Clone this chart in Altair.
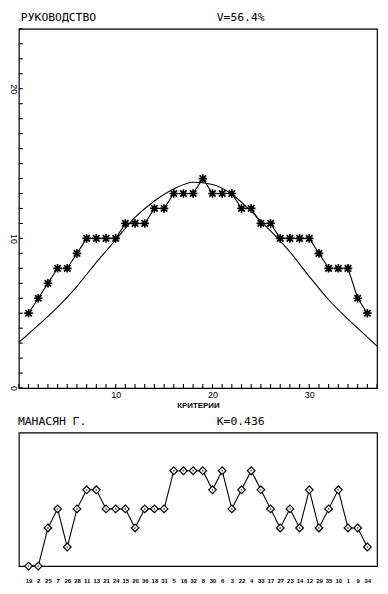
import altair as alt
import pandas as pd

# ---- data ----
criteria = list(range(1, 37))
top_values = [5, 6, 7, 8, 8, 9, 10, 10, 10, 10, 11, 11, 11, 12, 12, 13, 13, 13,
              14, 13, 13, 13, 12, 12, 11, 11, 10, 10, 10, 10, 9, 8, 8, 8, 6, 5]
curve_x = [0, 2, 4, 6, 8, 10, 12, 14, 16, 18, 20, 22, 24, 26, 28, 30, 32, 34, 36, 37]
curve_y = [3.05, 4.2, 5.4, 6.8, 8.4, 9.9, 11.4, 12.5, 13.3, 13.75, 13.6, 12.95,
           11.8, 10.5, 9.1, 7.45, 5.9, 4.6, 3.4, 2.8]
order_labels = ['19', '2', '25', '7', '26', '28', '11', '13', '21', '24', '15', '20',
                '36', '18', '31', '5', '16', '32', '8', '30', '6', '3', '22', '4',
                '33', '17', '27', '23', '14', '12', '29', '35', '10', '1', '9', '34']
bottom_values = [0, 0, 2, 3, 1, 3, 4, 4, 3, 3, 3, 2, 3, 3, 3, 5, 5, 5, 5, 4, 5, 3,
                 4, 5, 4, 3, 2, 3, 2, 4, 2, 3, 4, 2, 2, 1]
top_header = ["РУКОВОДСТВО", "V=56.4%"]
bottom_header = ["МАНАСЯН Г.", "K=0.436"]
x_ticks = list(range(0, 38))
y_ticks = list(range(0, 25))

HFONT = "DejaVu Sans Mono"
W = 362
H = 363

top_df = pd.DataFrame({"x": criteria, "y": top_values})
curve_df = pd.DataFrame({"x": curve_x, "y": curve_y})
bot_df = pd.DataFrame({"x": criteria, "y": bottom_values})
xt_df = pd.DataFrame({"v": x_ticks})
yt_df = pd.DataFrame({"v": y_ticks})

xs = alt.Scale(domain=[0, 37], nice=False, zero=False)
ys = alt.Scale(domain=[0, 24], nice=False)


def x_axis():
    return alt.Axis(values=[10, 20, 30], ticks=False, domain=False, labelPadding=3,
                    labelFontSize=9, labelColor="black",
                    title="КРИТЕРИИ", titleFontSize=8, titleFontWeight="bold",
                    titlePadding=2, titleColor="black", grid=False,
                    labelOverlap=False, labelFlush=False)


def y_axis():
    return alt.Axis(values=[0, 10, 20], ticks=False, domain=False, labelPadding=1,
                    labelFontSize=9, labelAngle=90, labelColor="black",
                    title=None, grid=False, labelOverlap=False, labelFlush=False)


asterisk = "M-1,0L1,0M0,-1L0,1M-0.75,-0.75L0.75,0.75M-0.75,0.75L0.75,-0.75"

base_top = alt.Chart(top_df).encode(
    x=alt.X("x:Q", scale=xs, axis=x_axis()),
    y=alt.Y("y:Q", scale=ys, axis=y_axis()),
)
top_line = base_top.mark_line(color="black", strokeWidth=1.1)
top_pts = base_top.mark_point(shape=asterisk, size=75, filled=False,
                              color="black", strokeWidth=1.7, opacity=1)
curve = alt.Chart(curve_df).mark_line(color="black", strokeWidth=1.1,
                                      interpolate="monotone").encode(
    x=alt.X("x:Q", scale=xs, axis=x_axis()),
    y=alt.Y("y:Q", scale=ys, axis=y_axis()))

# inward tick marks along the bottom and left edges
x_tick_marks = alt.Chart(xt_df).mark_rule(color="black", strokeWidth=1.1).encode(
    x=alt.X("v:Q", scale=xs, axis=x_axis()),
    y=alt.value(H),
    y2=alt.value(H - 4),
)
y_tick_marks = alt.Chart(yt_df).mark_rule(color="black", strokeWidth=1.1).encode(
    y=alt.Y("v:Q", scale=ys, axis=y_axis()),
    x=alt.value(0),
    x2=alt.value(4),
)

th = pd.DataFrame({"t": top_header, "px": [2, 200]})
top_text = alt.Chart(th).mark_text(font=HFONT, fontSize=11.5, align="left",
                                   baseline="alphabetic", color="black").encode(
    text="t:N", x=alt.X("px:Q", scale=None, axis=None), y=alt.value(-8))

top = alt.layer(top_line, top_pts, curve, x_tick_marks, y_tick_marks,
                top_text).properties(width=W, height=H)

label_arr = "[" + ",".join("'%s'" % s for s in order_labels) + "]"


def bx_axis():
    return alt.Axis(values=criteria, labelExpr=label_arr + "[datum.value-1]",
                    ticks=False, domain=False, labelPadding=12, labelFontSize=6,
                    labelFontWeight="bold", labelColor="black", title=None,
                    grid=False, labelOverlap=False, labelFlush=False, labelAngle=0)


bys = alt.Scale(domain=[0, 7], nice=False)
base_bot = alt.Chart(bot_df).encode(
    x=alt.X("x:Q", scale=xs, axis=bx_axis()),
    y=alt.Y("y:Q", scale=bys, axis=None),
)
bot_line = base_bot.mark_line(color="black", strokeWidth=1.1)
bot_pts = base_bot.mark_point(shape="diamond", size=60, filled=True, fill="white",
                              stroke="black", strokeWidth=1.2, opacity=1)
bot_dots = base_bot.mark_point(shape="circle", size=3, filled=True, color="black")

bh = pd.DataFrame({"t": bottom_header, "px": [-1, 200]})
bot_text = alt.Chart(bh).mark_text(font=HFONT, fontSize=11.5, align="left",
                                   baseline="alphabetic", color="black").encode(
    text="t:N", x=alt.X("px:Q", scale=None, axis=None), y=alt.value(-8))

bottom = alt.layer(bot_line, bot_pts, bot_dots, bot_text).properties(width=W, height=135)

chart = alt.vconcat(top, bottom, spacing=4).configure(
    background="white", padding=0,
    view=alt.ViewConfig(stroke="black", strokeWidth=1.2),
)

chart.save("out.html", embed_options={"renderer": "svg", "actions": False})
